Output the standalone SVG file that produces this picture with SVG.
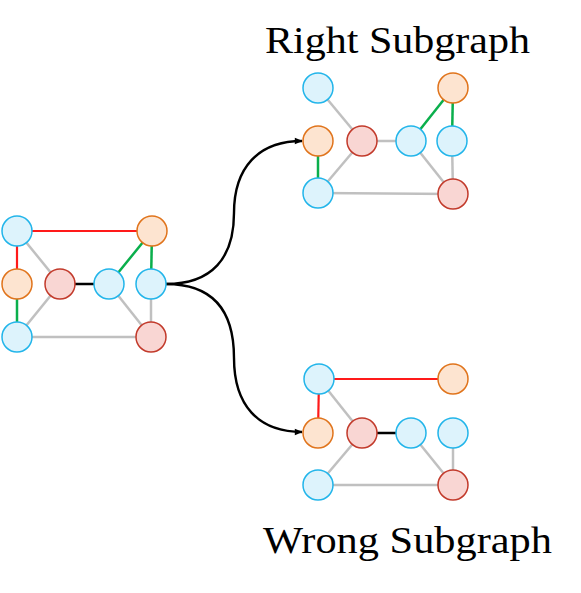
<svg xmlns="http://www.w3.org/2000/svg" width="581" height="593" viewBox="0 0 581 593">
<defs>
<marker id="arr" viewBox="0 0 10 10" refX="9" refY="5" markerWidth="9" markerHeight="8" orient="auto" markerUnits="userSpaceOnUse">
<path d="M0,1 L10,5 L0,9 z" fill="#000"/>
</marker>
<style>
.b{fill:#ddf3fc;stroke:#22b5ea;stroke-width:1.5}
.o{fill:#fde4d0;stroke:#e0741c;stroke-width:1.5}
.r{fill:#f9d6d3;stroke:#c23a2b;stroke-width:1.5}
.g{stroke:#c0c0c0;stroke-width:2.5;fill:none}
.rd{stroke:#ff1a1a;stroke-width:2.2;fill:none}
.gr{stroke:#0aaf4c;stroke-width:2.5;fill:none}
.bk{stroke:#000;stroke-width:2.3;fill:none}
.ar{stroke:#000;stroke-width:2.4;fill:none}
.t{font-family:'Liberation Serif','Times New Roman',Times,serif;font-size:38.5px;fill:#000}
</style>
</defs>
<g id="connectors">
<line class="rd" x1="17" y1="231" x2="152" y2="231"/>
<line class="rd" x1="17" y1="231" x2="17" y2="284"/>
<line class="gr" x1="17" y1="284" x2="17" y2="337"/>
<line class="g" x1="17" y1="231" x2="60" y2="284"/>
<line class="bk" x1="60" y1="284" x2="109" y2="284"/>
<line class="gr" x1="109" y1="284" x2="152" y2="231"/>
<line class="gr" x1="152" y1="231" x2="151" y2="284"/>
<line class="g" x1="151" y1="284" x2="151" y2="337"/>
<line class="g" x1="109" y1="284" x2="151" y2="337"/>
<line class="g" x1="60" y1="284" x2="17" y2="337"/>
<line class="g" x1="17" y1="337" x2="151" y2="337"/>
<line class="g" x1="318" y1="88" x2="362" y2="141"/>
<line class="g" x1="362" y1="141" x2="411" y2="141"/>
<line class="gr" x1="411" y1="141" x2="453" y2="88"/>
<line class="gr" x1="453" y1="88" x2="452" y2="141"/>
<line class="g" x1="452" y1="141" x2="453" y2="194"/>
<line class="g" x1="411" y1="141" x2="453" y2="194"/>
<line class="g" x1="318" y1="193" x2="453" y2="194"/>
<line class="g" x1="318" y1="193" x2="362" y2="141"/>
<line class="gr" x1="318" y1="141" x2="318" y2="193"/>
<line class="rd" x1="319" y1="379" x2="453" y2="379"/>
<line class="rd" x1="319" y1="379" x2="318" y2="433"/>
<line class="g" x1="319" y1="379" x2="362" y2="433"/>
<line class="bk" x1="362" y1="433" x2="411" y2="433"/>
<line class="g" x1="411" y1="433" x2="453" y2="485"/>
<line class="g" x1="453" y1="433" x2="453" y2="485"/>
<line class="g" x1="318" y1="485" x2="453" y2="485"/>
<line class="g" x1="318" y1="485" x2="362" y2="433"/>
<path class="ar" d="M166,284 C212,284 234,258 234,213 C234,168 258,141 302,141" marker-end="url(#arr)"/>
<path class="ar" d="M166,284 C212,284 234,310 234,358 C234,405 258,432 302,432" marker-end="url(#arr)"/>
</g>
<g id="left-graph">
<circle id="L1" class="b" cx="17" cy="231" r="15"/>
<circle id="L2" class="o" cx="17" cy="284" r="15"/>
<circle id="L3" class="b" cx="17" cy="337" r="15"/>
<circle id="L4" class="r" cx="60" cy="284" r="15"/>
<circle id="L5" class="b" cx="109" cy="284" r="15"/>
<circle id="L6" class="b" cx="151" cy="284" r="15"/>
<circle id="L7" class="o" cx="152" cy="231" r="15"/>
<circle id="L8" class="r" cx="151" cy="337" r="15"/>
</g>
<g id="right-graph">
<circle id="R1" class="b" cx="318" cy="88" r="15"/>
<circle id="R2" class="o" cx="318" cy="141" r="15"/>
<circle id="R3" class="b" cx="318" cy="193" r="15"/>
<circle id="R4" class="r" cx="362" cy="141" r="15"/>
<circle id="R5" class="b" cx="411" cy="141" r="15"/>
<circle id="R6" class="b" cx="452" cy="141" r="15"/>
<circle id="R7" class="o" cx="453" cy="88" r="15"/>
<circle id="R8" class="r" cx="453" cy="194" r="15"/>
</g>
<g id="wrong-graph">
<circle id="W1" class="b" cx="319" cy="379" r="15"/>
<circle id="W2" class="o" cx="318" cy="433" r="15"/>
<circle id="W3" class="b" cx="318" cy="485" r="15"/>
<circle id="W4" class="r" cx="362" cy="433" r="15"/>
<circle id="W5" class="b" cx="411" cy="433" r="15"/>
<circle id="W6" class="b" cx="453" cy="433" r="15"/>
<circle id="W7" class="o" cx="453" cy="379" r="15"/>
<circle id="W8" class="r" cx="453" cy="485" r="15"/>
</g>
<g id="labels">
<text class="t" x="265" y="53" textLength="265" lengthAdjust="spacingAndGlyphs">Right Subgraph</text>
<text class="t" x="263" y="553" textLength="289" lengthAdjust="spacingAndGlyphs">Wrong Subgraph</text>
</g>
</svg>
